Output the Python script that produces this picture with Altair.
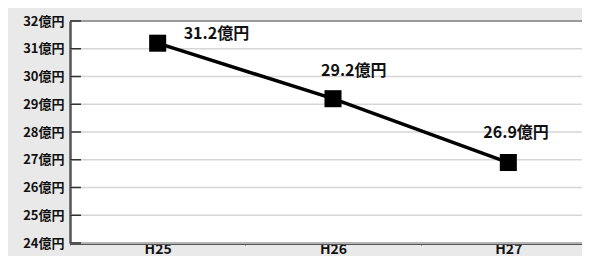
import altair as alt
import pandas as pd

years = ["H25", "H26", "H27"]
values = [31.2, 29.2, 26.9]
labels = ["31.2億円", "29.2億円", "26.9億円"]
y_ticks = [24, 25, 26, 27, 28, 29, 30, 31, 32]

df = pd.DataFrame({"year": years, "value": values, "label": labels})
ticks_df = pd.DataFrame({"v": y_ticks})

FONT = "Noto Sans CJK JP"

x_enc = alt.X("year:N", scale=alt.Scale(type="band", paddingInner=0, paddingOuter=0, range=[0, 526]),
              bandPosition=0.5,
              axis=alt.Axis(title=None, labelFont=FONT, labelFontSize=14, labelFontWeight="bold",
                            labelColor="#111", domainColor="#555", domainWidth=3,
                            ticks=True, tickBand="extent", tickColor="#555", tickSize=2,
                            labelPadding=-3, grid=False, labelAngle=0,
                            labelBaseline="top"))
y_scale = alt.Scale(domain=[24, 32], nice=False, zero=False)
y_axis = alt.Axis(title=None, values=y_ticks, labelExpr="datum.value + '億円'",
                  labelFont=FONT, labelFontSize=13, labelFontWeight="bold",
                  labelColor="#111", domainColor="#555", domainWidth=2.5,
                  labelOverlap=False, labelBound=False, labelFlush=False,
                  ticks=False, labelPadding=6, grid=False)

def y_enc(field):
    return alt.Y(field, scale=y_scale, axis=y_axis, title=None)

base = alt.Chart(df)

grid = alt.Chart(ticks_df).mark_rule(color="#d6d6d6", strokeWidth=1.5).encode(
    y=y_enc("v:Q"), x=alt.value(0), x2=alt.value(512)
)

top_rule = alt.Chart(pd.DataFrame({"v": [32]})).mark_rule(color="#9a9a9a", strokeWidth=2).encode(
    y=y_enc("v:Q"), x=alt.value(0), x2=alt.value(512)
)

in_ticks = alt.Chart(ticks_df).mark_rule(color="#333", strokeWidth=1.5).encode(
    y=y_enc("v:Q"), x=alt.value(0), x2=alt.value(11)
)

line = base.mark_line(color="#000", strokeWidth=3.5).encode(x=x_enc, y=y_enc("value:Q"))
pts = base.mark_square(color="#000", size=290, opacity=1).encode(x=x_enc, y=y_enc("value:Q"))

offsets = [(26, -9), (-12, -28), (-25, -30)]
texts = []
for yr, (dx, dy) in zip(years, offsets):
    texts.append(
        base.transform_filter(alt.datum.year == yr).mark_text(
            font=FONT, fontSize=16, fontWeight="bold", color="#111", align="left",
            baseline="middle", dx=dx, dy=dy
        ).encode(x=x_enc, y=y_enc("value:Q"), text="label:N")
    )

chart = alt.layer(grid, top_rule, in_ticks, line, pts, *texts).properties(
    width=512, height=222,
    background="#e9e9e9",
    autosize=alt.AutoSizeParams(type="none"),
    padding={"left": 62, "top": 13, "right": 0, "bottom": 13},
).configure_view(fill="white", stroke=None).configure_axisY(labelOverlap=False)

chart.save("out.html", embed_options={"renderer": "svg", "actions": False})
